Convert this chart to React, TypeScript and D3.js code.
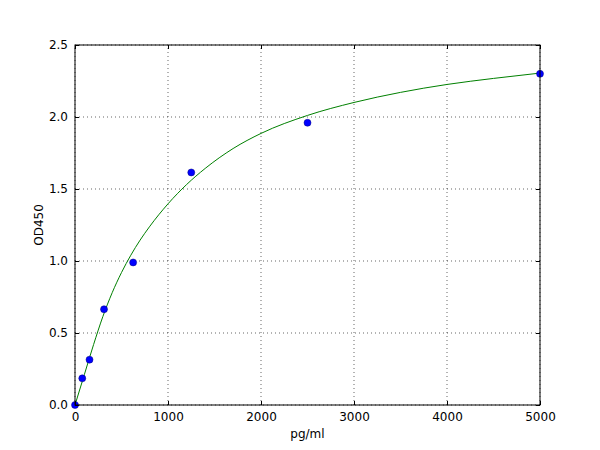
import * as React from "react"
import * as d3 from "d3"

// standard points
const concs = [0, 78, 156, 312, 625, 1250, 2500, 5000]
const ods = [0.0, 0.185, 0.315, 0.665, 0.99, 1.615, 1.96, 2.3]

// fitted curve
const fitX = [0, 100, 200, 300, 400, 500, 600, 700, 800, 1000, 1200, 1400, 1700, 2000, 2500, 3000, 3500, 4000, 4500, 5000]
const fitY = [0.0, 0.21, 0.42, 0.615, 0.78, 0.92, 1.04, 1.145, 1.237, 1.397, 1.531, 1.643, 1.781, 1.886, 2.011, 2.101, 2.171, 2.226, 2.268, 2.305]

const xTicks = [0, 1000, 2000, 3000, 4000, 5000]
const yTicks = [0.0, 0.5, 1.0, 1.5, 2.0, 2.5]

export default function App(): React.JSX.Element {
  const svgRef = React.useRef<SVGSVGElement>(null)

  React.useEffect(() => {
    const width = 600
    const height = 450
    const margin = { top: 45, right: 60, bottom: 45, left: 75 }

    const svg = d3.select(svgRef.current).attr("width", width).attr("height", height)
    svg.selectAll("*").remove()

    const xScale = d3.scaleLinear().domain([0, 5000]).range([margin.left, width - margin.right])
    const yScale = d3.scaleLinear().domain([0, 2.5]).range([height - margin.bottom, margin.top])

    const font = "DejaVu Sans, sans-serif"

    // grid
    svg
      .selectAll(".vgrid")
      .data(xTicks)
      .join("line")
      .attr("class", "vgrid")
      .attr("x1", (d) => xScale(d))
      .attr("x2", (d) => xScale(d))
      .attr("y1", yScale(0))
      .attr("y2", yScale(2.5))
      .attr("stroke", "#000")
      .attr("stroke-width", 0.6)
      .attr("stroke-dasharray", "1,3")
    svg
      .selectAll(".hgrid")
      .data(yTicks)
      .join("line")
      .attr("class", "hgrid")
      .attr("x1", xScale(0))
      .attr("x2", xScale(5000))
      .attr("y1", (d) => yScale(d))
      .attr("y2", (d) => yScale(d))
      .attr("stroke", "#000")
      .attr("stroke-width", 0.6)
      .attr("stroke-dasharray", "1,3")

    // fitted curve
    const line = d3
      .line<number>()
      .x((_, i) => xScale(fitX[i]))
      .y((d) => yScale(d))
      .curve(d3.curveMonotoneX)
    svg
      .append("path")
      .datum(fitY)
      .attr("d", line)
      .attr("fill", "none")
      .attr("stroke", "#008000")
      .attr("stroke-width", 1)

    // points
    svg
      .selectAll(".pt")
      .data(ods)
      .join("circle")
      .attr("class", "pt")
      .attr("cx", (_, i) => xScale(concs[i]))
      .attr("cy", (d) => yScale(d))
      .attr("r", 3.5)
      .attr("fill", "#0000ff")
      .attr("stroke", "#000080")
      .attr("stroke-width", 0.5)

    // frame
    svg
      .append("rect")
      .attr("x", xScale(0))
      .attr("y", yScale(2.5))
      .attr("width", xScale(5000) - xScale(0))
      .attr("height", yScale(0) - yScale(2.5))
      .attr("fill", "none")
      .attr("stroke", "#000")
      .attr("stroke-width", 1)

    // ticks, inward on all sides
    const bottom = svg.append("g").attr("transform", `translate(0,${yScale(0)})`)
      .call(d3.axisBottom(xScale).tickValues(xTicks).tickSizeInner(-4).tickSizeOuter(0).tickPadding(7).tickFormat(d3.format("d")))
    const top = svg.append("g").attr("transform", `translate(0,${yScale(2.5)})`)
      .call(d3.axisTop(xScale).tickValues(xTicks).tickSizeInner(-4).tickSizeOuter(0).tickFormat(() => ""))
    const left = svg.append("g").attr("transform", `translate(${xScale(0)},0)`)
      .call(d3.axisLeft(yScale).tickValues(yTicks).tickSizeInner(-4).tickSizeOuter(0).tickPadding(7).tickFormat(d3.format(".1f")))
    const right = svg.append("g").attr("transform", `translate(${xScale(5000)},0)`)
      .call(d3.axisRight(yScale).tickValues(yTicks).tickSizeInner(-4).tickSizeOuter(0).tickFormat(() => ""))

    for (const g of [bottom, top, left, right]) {
      g.select(".domain").remove()
      g.selectAll("text").attr("font-family", font).attr("font-size", 12).attr("fill", "#000")
    }

    svg
      .append("text")
      .attr("x", (xScale(0) + xScale(5000)) / 2)
      .attr("y", 438)
      .attr("text-anchor", "middle")
      .attr("font-family", font)
      .attr("font-size", 12)
      .text("pg/ml")

    svg
      .append("text")
      .attr("transform", `translate(43,${(yScale(0) + yScale(2.5)) / 2}) rotate(-90)`)
      .attr("text-anchor", "middle")
      .attr("font-family", font)
      .attr("font-size", 12)
      .text("OD450")
  }, [])

  return (
    <div style={{ position: "absolute", left: 0, top: 0, width: 600, height: 450, background: "#fff" }}>
      <svg ref={svgRef}></svg>
    </div>
  )
}
